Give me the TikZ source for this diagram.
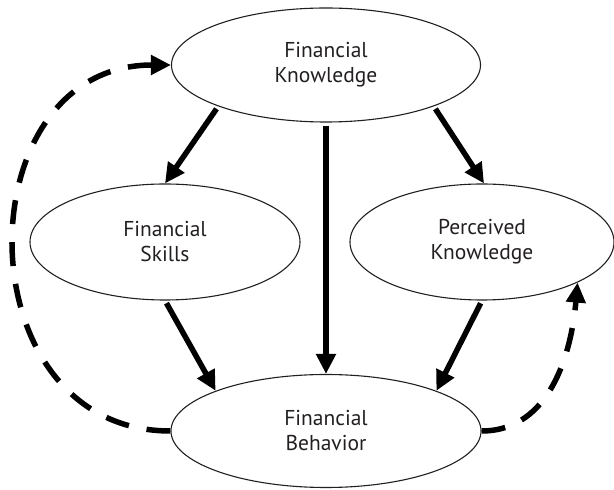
\documentclass[tikz,border=0pt]{standalone}
\usepackage{fontspec}
\setmainfont{PT Sans}
\usepackage{tikz}
\usetikzlibrary{shapes,arrows.meta}
\definecolor{ink}{HTML}{231F20}

\begin{document}
\begin{tikzpicture}[x=1pt, y=1pt,
  bubble/.style={ellipse, draw=ink, line width=1.1pt, inner sep=0pt,
    align=center, text=ink, font=\fontsize{21.5}{25}\selectfont},
  flow/.style={line width=5.5pt, -{Triangle[length=20pt, width=19pt]}, shorten <=3pt},
  feedback/.style={flow, dash pattern=on 24pt off 18pt, shorten <=0pt}]

  \useasboundingbox (0,0) rectangle (614,490);

  \node[bubble, minimum width=309pt, minimum height=114pt] (know) at (326,425) {Financial\\Knowledge};
  \node[bubble, minimum width=270pt, minimum height=116pt] (skills) at (165,248) {Financial\\Skills};
  \node[bubble, minimum width=264pt, minimum height=116pt] (perc) at (482,248) {Perceived\\Knowledge};
  \node[bubble, minimum width=310pt, minimum height=113pt] (beh) at (326,59) {Financial\\Behavior};

  \draw[flow] (know.201) -- (skills.north); %% know->skills
  \draw[flow] (know.-21) -- (perc.88); %% know->perc
  \draw[flow] (know.south) -- (beh.north); %% know->beh
  \draw[flow] (skills.south) -- (beh.160); %% skills->beh
  \draw[flow] (perc.south) -- (beh.20); %% perc->beh

  % feedback loops
  \draw[feedback] (beh.west) to[out=180, in=180, looseness=1.46] (know.west);
  \draw[feedback] (beh.east) to[out=0, in=-95] (perc.-23);
\end{tikzpicture}
\end{document}
